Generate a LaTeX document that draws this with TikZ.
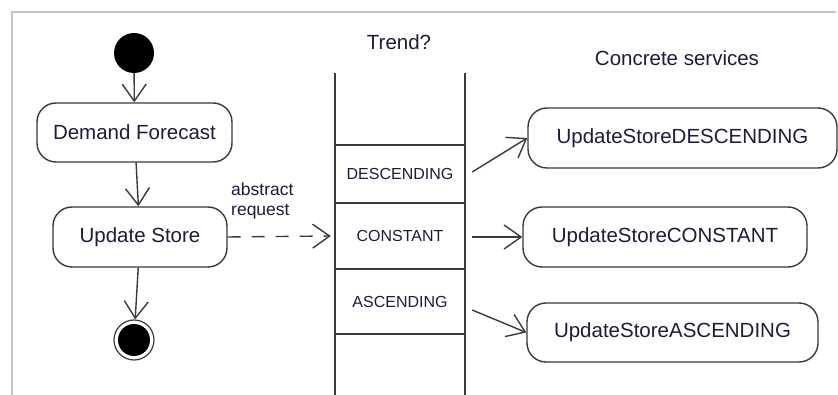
\documentclass[tikz,border=0pt]{standalone}
\usepackage{fontspec}
\setmainfont{Liberation Sans}
\usetikzlibrary{arrows.meta}
\definecolor{txt}{HTML}{1E1B3C}
\definecolor{ln}{HTML}{3A3A3A}
\definecolor{frame}{HTML}{C4C4C4}
\tikzset{
  act/.style={draw=ln, line width=1.4pt, rounded corners=19pt, fill=white, text=txt, font=\fontsize{20.5}{24}\selectfont, inner sep=0pt},
  flow/.style={draw=ln, line width=1.4pt, -{Straight Barb[length=17pt,width=24pt,line width=1.4pt]}},
  cell/.style={inner sep=0pt, minimum width=130pt, text=txt, font=\fontsize{16}{19}\selectfont},
  lane/.style={draw=ln, line width=1.8pt},
  lbl/.style={text=txt, inner sep=0pt}
}
\begin{document}
\begin{tikzpicture}[x=1pt,y=-1pt]
\useasboundingbox (0,0) rectangle (838,395);
\fill[white] (0,0) rectangle (838,395);
% frame
\draw[frame, line width=1.2pt] (12,395) -- (12,12) -- (836,12);
% start / end
\node[circle, fill=black, minimum size=40pt, inner sep=0pt] (start) at (134,53) {};
\node[act, minimum width=195pt, minimum height=59pt] (df) at (134.5,132.5) {Demand Forecast};
\node[act, minimum width=174pt, minimum height=60pt] (us) at (140,237) {Update Store};
\node[circle, draw=ln, line width=1.2pt, minimum size=40pt, inner sep=0pt] (end) at (134,340) {};
\fill[black] (end.center) circle (16pt);
\draw[flow] (start) -- (df);
\draw[flow] (df) -- (us);
\draw[flow] (us) -- (end);
% lane
\node[lbl, font=\fontsize{20.5}{24}\selectfont] (trend) at (399,42) {Trend?};
\coordinate (lt) at (335,73);
\coordinate (lb) at (335,395);
\coordinate (rt) at (465,73);
\coordinate (rb) at (465,395);
\draw[lane] (lt) -- (lb);
\draw[lane] (rt) -- (rb);
\node[cell, minimum height=58pt] (desc) at (400,174) {DESCENDING};
\node[cell, minimum height=66pt] (cons) at (400,236) {CONSTANT};
\node[cell, minimum height=65pt] (asc) at (400,301.5) {ASCENDING};
\draw[lane] (desc.north west) -- (desc.north east);
\draw[lane] (desc.south west) -- (desc.south east);
\draw[lane] (cons.south west) -- (cons.south east);
\draw[lane] (asc.south west) -- (asc.south east);
% abstract request
\node[lbl, align=left, anchor=west, font=\fontsize{17.5}{20}\selectfont] (ar) at (231,201) {abstract\\request};
\draw[flow, dashed, dash pattern=on 13pt off 11pt] (us.east) -- ([xshift=-4pt]cons.west);
% concrete services
\node[lbl, font=\fontsize{20.5}{24}\selectfont] (cs) at (677,58) {Concrete services};
\node[act, minimum width=309pt, minimum height=60pt] (ud) at (682.5,138) {UpdateStoreDESCENDING};
\node[act, minimum width=284pt, minimum height=60pt] (uc) at (665,237) {UpdateStoreCONSTANT};
\node[act, minimum width=291pt, minimum height=59pt] (ua) at (672.5,332.5) {UpdateStoreASCENDING};
\draw[flow] ([xshift=7pt,yshift=2pt]desc.east) -- (ud.west);
\draw[flow] ([xshift=7pt,yshift=-1pt]cons.east) -- (uc.west);
\draw[flow] ([xshift=7pt,yshift=-8.5pt]asc.east) -- (ua.west);
\end{tikzpicture}
\end{document}
